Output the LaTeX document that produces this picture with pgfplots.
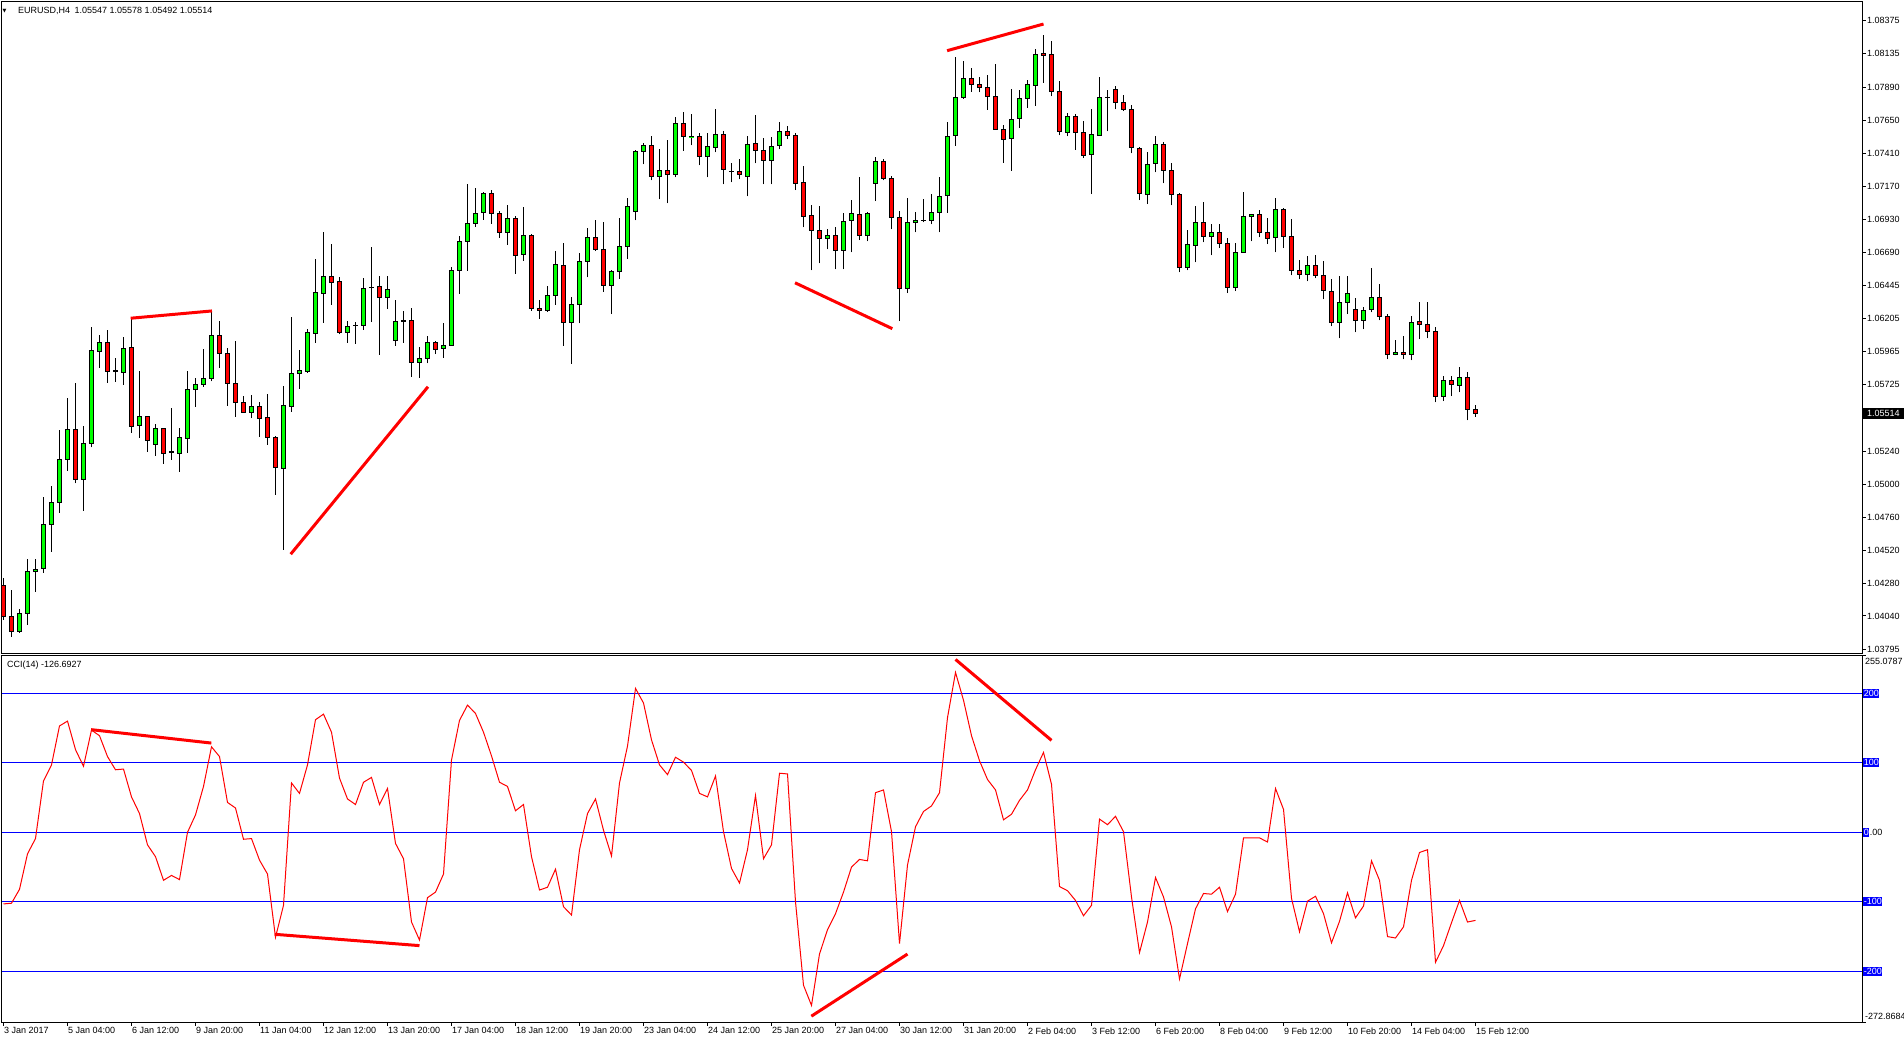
\documentclass[border=0pt]{standalone}
\usepackage{pgfplots}
\pgfplotsset{compat=1.18}
\usepackage{pgfplotstable}
\usepackage{fontspec}
\setmainfont{Liberation Sans}
\newfontfamily\symfont{DejaVu Sans}

\definecolor{candgreen}{RGB}{0,255,0}
\definecolor{candred}{RGB}{255,0,0}
\definecolor{levelblue}{RGB}{0,0,255}
\newcommand\mtfont{\fontsize{9}{10.8}\selectfont}

% EURUSD H4, bar index, open high low close
\pgfplotstableread{
i o h l c
0 1.04263 1.04315 1.04011 1.04035
1 1.04035 1.04229 1.03889 1.03929
2 1.03929 1.04089 1.03918 1.04060
3 1.04060 1.04453 1.03977 1.04366
4 1.04366 1.04453 1.04217 1.04380
5 1.04388 1.04904 1.04355 1.04708
6 1.04708 1.04986 1.04509 1.04868
7 1.04868 1.05394 1.04792 1.05181
8 1.05181 1.05628 1.05098 1.05399
9 1.05399 1.05734 1.05006 1.05035
10 1.05035 1.05423 1.04807 1.05297
11 1.05297 1.06144 1.05268 1.05975
12 1.05968 1.06086 1.05848 1.06033
13 1.06033 1.06122 1.05738 1.05822
14 1.05822 1.05917 1.05746 1.05825
15 1.05814 1.06071 1.05724 1.05990
16 1.05997 1.06208 1.05374 1.05421
17 1.05428 1.05824 1.05338 1.05489
18 1.05489 1.05495 1.05237 1.05319
19 1.05290 1.05438 1.05208 1.05407
20 1.05407 1.05410 1.05149 1.05225
21 1.05232 1.05555 1.05176 1.05235
22 1.05225 1.05409 1.05091 1.05341
23 1.05334 1.05824 1.05229 1.05690
24 1.05690 1.05773 1.05564 1.05727
25 1.05727 1.05985 1.05709 1.05771
26 1.05771 1.06261 1.05749 1.06083
27 1.06083 1.06186 1.05848 1.05953
28 1.05953 1.05990 1.05572 1.05734
29 1.05734 1.06043 1.05491 1.05596
30 1.05596 1.05640 1.05523 1.05523
31 1.05523 1.05650 1.05480 1.05567
32 1.05567 1.05596 1.05345 1.05480
33 1.05487 1.05657 1.05287 1.05341
34 1.05341 1.05353 1.04923 1.05120
35 1.05113 1.05714 1.04521 1.05574
36 1.05567 1.06217 1.05528 1.05807
37 1.05807 1.05977 1.05695 1.05824
38 1.05819 1.06130 1.05811 1.06105
39 1.06098 1.06640 1.06030 1.06397
40 1.06390 1.06835 1.06175 1.06513
41 1.06513 1.06749 1.06307 1.06469
42 1.06477 1.06508 1.06091 1.06105
43 1.06105 1.06186 1.06030 1.06149
44 1.06154 1.06178 1.06023 1.06156
45 1.06156 1.06501 1.06124 1.06426
46 1.06433 1.06727 1.06180 1.06430
47 1.06440 1.06515 1.05943 1.06361
48 1.06361 1.06515 1.06278 1.06418
49 1.06048 1.06341 1.06009 1.06186
50 1.06190 1.06259 1.06030 1.06187
51 1.06193 1.06281 1.05782 1.05887
52 1.05887 1.05999 1.05775 1.05912
53 1.05917 1.06076 1.05880 1.06033
54 1.06030 1.06043 1.05946 1.05982
55 1.05990 1.06173 1.05919 1.06011
56 1.06011 1.06581 1.06008 1.06557
57 1.06557 1.06806 1.06387 1.06768
58 1.06768 1.07185 1.06554 1.06899
59 1.06899 1.07156 1.06874 1.06972
60 1.06979 1.07125 1.06925 1.07113
61 1.07118 1.07142 1.06896 1.06972
62 1.06972 1.06989 1.06794 1.06833
63 1.06833 1.07033 1.06744 1.06936
64 1.06936 1.06952 1.06532 1.06666
65 1.06674 1.07016 1.06627 1.06811
66 1.06811 1.06819 1.06263 1.06278
67 1.06281 1.06339 1.06205 1.06266
68 1.06263 1.06440 1.06256 1.06375
69 1.06375 1.06698 1.06307 1.06601
70 1.06593 1.06754 1.06009 1.06178
71 1.06178 1.06361 1.05877 1.06310
72 1.06310 1.06681 1.06171 1.06623
73 1.06623 1.06863 1.06506 1.06797
74 1.06797 1.06921 1.06696 1.06710
75 1.06710 1.06906 1.06402 1.06447
76 1.06447 1.06557 1.06237 1.06550
77 1.06550 1.06938 1.06496 1.06732
78 1.06732 1.07082 1.06642 1.07023
79 1.06987 1.07431 1.06921 1.07424
80 1.07424 1.07482 1.07329 1.07467
81 1.07467 1.07532 1.07212 1.07241
82 1.07241 1.07438 1.07074 1.07285
83 1.07285 1.07504 1.07045 1.07256
84 1.07256 1.07671 1.07234 1.07627
85 1.07627 1.07707 1.07428 1.07532
86 1.07529 1.07693 1.07467 1.07530
87 1.07532 1.07554 1.07321 1.07387
88 1.07387 1.07554 1.07234 1.07460
89 1.07453 1.07729 1.07416 1.07547
90 1.07547 1.07569 1.07183 1.07292
91 1.07278 1.07336 1.07197 1.07275
92 1.07278 1.07365 1.07219 1.07256
93 1.07241 1.07532 1.07096 1.07475
94 1.07482 1.07685 1.07336 1.07431
95 1.07431 1.07518 1.07183 1.07358
96 1.07358 1.07525 1.07183 1.07460
97 1.07467 1.07634 1.07438 1.07569
98 1.07569 1.07605 1.07510 1.07539
99 1.07539 1.07554 1.07140 1.07190
100 1.07197 1.07314 1.06870 1.06950
101 1.06957 1.07030 1.06557 1.06848
102 1.06848 1.07023 1.06608 1.06790
103 1.06790 1.06855 1.06710 1.06811
104 1.06811 1.06870 1.06564 1.06703
105 1.06703 1.06972 1.06564 1.06914
106 1.06921 1.07067 1.06688 1.06972
107 1.06965 1.07234 1.06776 1.06811
108 1.06811 1.06979 1.06768 1.06972
109 1.07190 1.07380 1.07060 1.07351
110 1.07351 1.07365 1.07212 1.07227
111 1.07227 1.07241 1.06855 1.06943
112 1.06943 1.06987 1.06186 1.06426
113 1.06426 1.07082 1.06390 1.06906
114 1.06906 1.06979 1.06833 1.06921
115 1.06921 1.07074 1.06906 1.06923
116 1.06921 1.07111 1.06892 1.06979
117 1.06979 1.07234 1.06833 1.07096
118 1.07101 1.07639 1.06976 1.07532
119 1.07537 1.08110 1.07465 1.07817
120 1.07817 1.08081 1.07807 1.07955
121 1.07955 1.08028 1.07858 1.07911
122 1.07911 1.07962 1.07853 1.07889
123 1.07889 1.07976 1.07726 1.07824
124 1.07824 1.08059 1.07580 1.07583
125 1.07583 1.07612 1.07340 1.07510
126 1.07518 1.07874 1.07282 1.07656
127 1.07664 1.07868 1.07595 1.07810
128 1.07810 1.07940 1.07741 1.07911
129 1.07903 1.08166 1.07756 1.08130
130 1.08137 1.08271 1.07922 1.08122
131 1.08130 1.08225 1.07824 1.07860
132 1.07860 1.07933 1.07539 1.07569
133 1.07561 1.07700 1.07532 1.07678
134 1.07678 1.07693 1.07435 1.07561
135 1.07561 1.07642 1.07373 1.07394
136 1.07402 1.07729 1.07111 1.07547
137 1.07539 1.07962 1.07536 1.07817
138 1.07817 1.07868 1.07569 1.07815
139 1.07874 1.07896 1.07729 1.07780
140 1.07780 1.07831 1.07715 1.07729
141 1.07729 1.07758 1.07409 1.07453
142 1.07446 1.07453 1.07067 1.07118
143 1.07111 1.07416 1.07038 1.07329
144 1.07336 1.07532 1.07270 1.07475
145 1.07475 1.07489 1.07190 1.07285
146 1.07285 1.07336 1.07030 1.07111
147 1.07111 1.07118 1.06542 1.06579
148 1.06579 1.06848 1.06557 1.06747
149 1.06739 1.07023 1.06615 1.06906
150 1.06906 1.07052 1.06761 1.06804
151 1.06804 1.06892 1.06666 1.06833
152 1.06833 1.06892 1.06718 1.06754
153 1.06754 1.06790 1.06390 1.06433
154 1.06433 1.06754 1.06405 1.06688
155 1.06688 1.07125 1.06685 1.06950
156 1.06950 1.06968 1.06768 1.06965
157 1.06965 1.06994 1.06797 1.06833
158 1.06833 1.06936 1.06747 1.06790
159 1.06797 1.07082 1.06688 1.07001
160 1.07001 1.07009 1.06718 1.06804
161 1.06804 1.06928 1.06520 1.06557
162 1.06557 1.06630 1.06491 1.06528
163 1.06528 1.06659 1.06477 1.06593
164 1.06593 1.06666 1.06499 1.06520
165 1.06520 1.06623 1.06346 1.06412
166 1.06405 1.06491 1.06149 1.06178
167 1.06178 1.06513 1.06062 1.06324
168 1.06324 1.06513 1.06237 1.06390
169 1.06273 1.06354 1.06105 1.06193
170 1.06193 1.06288 1.06127 1.06266
171 1.06273 1.06572 1.06251 1.06361
172 1.06361 1.06455 1.06193 1.06222
173 1.06222 1.06237 1.05909 1.05946
174 1.05946 1.06048 1.05938 1.05960
175 1.05960 1.06076 1.05909 1.05946
176 1.05946 1.06222 1.05902 1.06178
177 1.06186 1.06324 1.06054 1.06164
178 1.06164 1.06324 1.06062 1.06113
179 1.06113 1.06142 1.05596 1.05640
180 1.05640 1.05785 1.05604 1.05756
181 1.05756 1.05785 1.05640 1.05727
182 1.05719 1.05851 1.05669 1.05778
183 1.05778 1.05814 1.05465 1.05547
184 1.05547 1.05578 1.05492 1.05514
}\ohlc

% CCI(14) per bar
\pgfplotstableread{
i v
0 -103
1 -102
2 -82
3 -31
4 -9
5 74
6 97
7 153
8 160
9 119
10 95
11 147
12 139
13 109
14 90
15 91
16 51
17 27
18 -18
19 -35
20 -69
21 -62
22 -68
23 0
24 25
25 66
26 123
27 109
28 43
29 35
30 -10
31 -9
32 -40
33 -60
34 -151
35 -105
36 71
37 56
38 97
39 162
40 170
41 144
42 78
43 48
44 40
45 72
46 79
47 40
48 63
49 -16
50 -38
51 -129
52 -155
53 -94
54 -86
55 -60
56 104
57 161
58 183
59 171
60 144
61 110
62 72
63 66
64 31
65 40
66 -35
67 -83
68 -79
69 -53
70 -107
71 -119
72 -25
73 27
74 48
75 3
76 -34
77 71
78 124
79 207
80 186
81 133
82 97
83 83
84 108
85 101
86 89
87 56
88 51
89 81
90 1
91 -52
92 -73
93 -25
94 53
95 -38
96 -18
97 85
98 84
99 -100
100 -220
101 -249
102 -175
103 -140
104 -117
105 -86
106 -50
107 -39
108 -41
109 57
110 61
111 1
112 -160
113 -47
114 8
115 30
116 38
117 57
118 165
119 230
120 190
121 139
122 103
123 76
124 61
125 18
126 26
127 46
128 61
129 90
130 115
131 69
132 -78
133 -84
134 -98
135 -120
136 -105
137 19
138 11
139 23
140 1
141 -93
142 -173
143 -129
144 -65
145 -93
146 -136
147 -211
148 -160
149 -110
150 -88
151 -89
152 -79
153 -114
154 -89
155 -8
156 -8
157 -8
158 -14
159 63
160 33
161 -95
162 -143
163 -99
164 -92
165 -117
166 -159
167 -128
168 -87
169 -123
170 -106
171 -41
172 -69
173 -150
174 -152
175 -136
176 -69
177 -29
178 -25
179 -187
180 -163
181 -130
182 -98
183 -129
184 -126.69
}\ccidata

\pgfplotsset{
  mtaxis/.style={
    scale only axis, width=1860pt,
    xmin=-0.1875, xmax=232.3125,
    axis line style={line width=1pt},
    tick style={black, line width=1pt},
    major tick length=3.5pt, tick align=outside,
    tick label style={font=\mtfont},
    scaled y ticks=false,
    ytick pos=right, yticklabel pos=right,
  },
  wick/.style={black, line width=1pt, mark=none, forget plot},
  candle/.style={draw=black, line width=1pt, mark=none, forget plot},
}
\tikzset{trend/.style={candred, line width=3pt}}

\begin{document}
\begin{tikzpicture}[font=\mtfont]
\fill[white] (0pt,0pt) rectangle (1904pt,-1043pt);
\path[use as bounding box] (0pt,0pt) rectangle (1904pt,-1043pt);

\begin{axis}[mtaxis,
  at={(2pt,-653pt)}, anchor=south west, height=651pt,
  ymin=1.037705, ymax=1.085104,
  xtick=\empty,
  ytick={1.03795,1.04040,1.04280,1.04520,1.04760,1.05000,1.05240,1.05485,1.05725,1.05965,1.06205,1.06445,1.06690,1.06930,1.07170,1.07410,1.07650,1.07890,1.08135,1.08375},
  yticklabels={1.03795,1.04040,1.04280,1.04520,1.04760,1.05000,1.05240,,1.05725,1.05965,1.06205,1.06445,1.06690,1.06930,1.07170,1.07410,1.07650,1.07890,1.08135,1.08375},
  yticklabel style={anchor=west, inner sep=0pt, xshift=1.5pt},
]
\pgfplotsinvokeforeach{0,...,184}{%
  \pgfplotstablegetelem{#1}{o}\of\ohlc\edef\po{\pgfplotsretval}%
  \pgfplotstablegetelem{#1}{h}\of\ohlc\edef\ph{\pgfplotsretval}%
  \pgfplotstablegetelem{#1}{l}\of\ohlc\edef\pl{\pgfplotsretval}%
  \pgfplotstablegetelem{#1}{c}\of\ohlc\edef\pc{\pgfplotsretval}%
  \ifdim\pc pt<\po pt\relax
    \edef\bodylo{\pc}\edef\bodyhi{\po}\def\bodycol{candred}%
  \else
    \edef\bodylo{\po}\edef\bodyhi{\pc}\def\bodycol{candgreen}%
  \fi
  \pgfmathsetmacro\xl{#1-0.28}\pgfmathsetmacro\xr{#1+0.28}%
  \edef\candleplot{%
    \noexpand\addplot[wick] coordinates {(#1,\pl) (#1,\ph)};%
    \noexpand\addplot[candle, fill=\bodycol] coordinates
      {(\xl,\bodylo) (\xr,\bodylo) (\xr,\bodyhi) (\xl,\bodyhi)} -- cycle;}%
  \candleplot
}
\draw[trend] (axis cs:15.9,1.06208) -- (axis cs:26.06,1.06261);
\draw[trend] (axis cs:35.9,1.04490) -- (axis cs:53.06,1.05709);
\draw[trend] (axis cs:98.94,1.06466) -- (axis cs:111.1,1.06132);
\draw[trend] (axis cs:117.95,1.08156) -- (axis cs:130.0,1.08350);
\end{axis}

\begin{axis}[mtaxis,
  at={(2pt,-1022pt)}, anchor=south west, height=367pt,
  ymin=-272.8684, ymax=255.0787,
  xtick={0,8,...,184},
  xticklabels={3 Jan 2017,5 Jan 04:00,6 Jan 12:00,9 Jan 20:00,11 Jan 04:00,12 Jan 12:00,13 Jan 20:00,17 Jan 04:00,18 Jan 12:00,19 Jan 20:00,23 Jan 04:00,24 Jan 12:00,25 Jan 20:00,27 Jan 04:00,30 Jan 12:00,31 Jan 20:00,2 Feb 04:00,3 Feb 12:00,6 Feb 20:00,8 Feb 04:00,9 Feb 12:00,10 Feb 20:00,14 Feb 04:00,15 Feb 12:00},
  xtick pos=bottom,
  xticklabel style={anchor=north west, inner sep=0pt, xshift=0.5pt, yshift=-2pt},
  ytick={-272.8684,255.0787}, yticklabels={,},
  extra y ticks={-200,-100,0,100,200}, extra y tick labels={},
  extra y tick style={grid=major, major grid style={levelblue, line width=1pt}, tick style={draw=none}},
]
\addplot[candred, line width=1pt, mark=none] table[x=i, y=v] {\ccidata};
\draw[trend] (axis cs:10.95,147.7) -- (axis cs:25.98,128.4);
\draw[trend] (axis cs:33.9,-146.7) -- (axis cs:52.0,-163);
\draw[trend] (axis cs:119.0,248.7) -- (axis cs:131.0,132.3);
\draw[trend] (axis cs:100.98,-264.5) -- (axis cs:113.0,-175.1);
\end{axis}

% window captions and price/level markers
\node[anchor=base west, inner sep=0pt] at (2.5pt,-12.5pt) {\symfont\fontsize{5}{5}\selectfont ▼};
\node[anchor=base west, inner sep=0pt] at (18pt,-14pt) {EURUSD,H4\hspace{0.5em}1.05547 1.05578 1.05492 1.05514};
\node[anchor=base west, inner sep=0pt] at (7pt,-667pt) {CCI(14) -126.6927};
\node[fill=black, text=white, anchor=west, inner xsep=4.5pt, inner ysep=2.8pt] at (1862.5pt,-413.5pt) {1.05514};
\node[anchor=west, inner sep=0pt] at (1865pt,-661.7pt) {255.0787};
\node[anchor=west, inner sep=0pt] at (1865pt,-1016pt) {-272.8684};
\foreach \lev/\yy in {200/693.3,100/762.8,-100/901.8,-200/971.3}
  \node[fill=levelblue, text=white, anchor=west, inner xsep=0.6pt, inner ysep=1.4pt] at (1863pt,-\yy pt) {\lev};
\node (zero) [fill=levelblue, text=white, anchor=west, inner xsep=0.6pt, inner ysep=1.4pt] at (1863pt,-832.3pt) {0};
\node[anchor=west, inner sep=0pt] at (zero.east) {.00};
\end{tikzpicture}
\end{document}
